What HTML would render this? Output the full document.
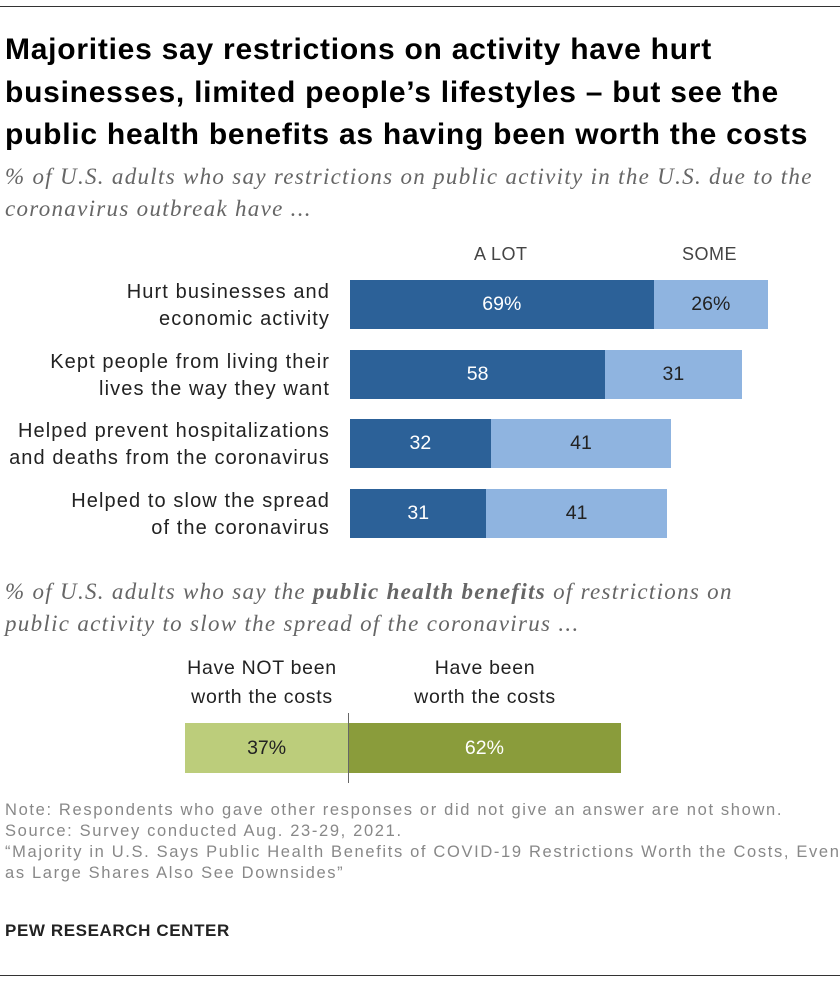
<!DOCTYPE html>
<html><head><meta charset="utf-8"><style>
body{margin:0;width:840px;height:982px;background:#fff;font-family:"Liberation Sans",sans-serif;position:relative;overflow:hidden}
.abs{position:absolute}
.title{left:5px;top:29px;font-size:30px;letter-spacing:0.75px;font-weight:bold;line-height:42.5px;color:#000;width:835px;white-space:nowrap}
.sub{font-family:"Liberation Serif",serif;font-style:italic;color:#666;font-size:23px;letter-spacing:1.3px;line-height:32px;white-space:nowrap}
.lbl{font-size:20px;letter-spacing:1.1px;line-height:27px;text-align:right;color:#222;white-space:nowrap}
.note{font-size:16.5px;letter-spacing:1.65px;color:#888;line-height:21px;white-space:nowrap}
</style></head><body>
<div class="abs" style="left:0;top:6px;width:840px;height:1px;background:#333"></div>
<div class="abs title">Majorities say restrictions on activity have hurt<br>businesses, limited people’s lifestyles – but see the<br>public health benefits as having been worth the costs</div>
<div class="abs sub" style="left:5px;top:161px">% of U.S. adults who say restrictions on public activity in the U.S. due to the<br>coronavirus outbreak have ...</div>
<div class="abs" style="left:474px;top:244px;font-size:18px;letter-spacing:0.5px;color:#444">A LOT</div>
<div class="abs" style="left:682px;top:244px;font-size:18px;letter-spacing:0.5px;color:#444">SOME</div>
<div id="chart1"></div>
<div class="abs sub" style="left:5px;top:576px">% of U.S. adults who say the <b>public health benefits</b> of restrictions on<br>public activity to slow the spread of the coronavirus ...</div>
<div class="abs" style="left:152px;top:654px;width:220px;text-align:center;font-size:19.5px;letter-spacing:0.7px;line-height:29px;color:#222">Have NOT been<br>worth the costs</div>
<div class="abs" style="left:375px;top:654px;width:220px;text-align:center;font-size:19.5px;letter-spacing:0.7px;line-height:29px;color:#222">Have been<br>worth the costs</div>
<div id="chart2"></div>
<div class="abs note" style="left:5px;top:800px">Note: Respondents who gave other responses or did not give an answer are not shown.<br>Source: Survey conducted Aug. 23-29, 2021.<br>“Majority in U.S. Says Public Health Benefits of COVID-19 Restrictions Worth the Costs, Even<br>as Large Shares Also See Downsides”</div>
<div class="abs" style="left:5px;top:921px;font-size:17px;letter-spacing:0.6px;font-weight:bold;color:#222">PEW RESEARCH CENTER</div>
<div class="abs" style="left:0;top:975px;width:840px;height:1px;background:#333"></div>
<script>
const categories=["Hurt businesses and<br>economic activity","Kept people from living their<br>lives the way they want","Helped prevent hospitalizations<br>and deaths from the coronavirus","Helped to slow the spread<br>of the coronavirus"];
const aLot=[69,58,32,31];
const some=[26,31,41,41];
const aLotLabels=["69%","58","32","31"];
const someLabels=["26%","31","41","41"];
const worthCats=["Have NOT been worth the costs","Have been worth the costs"];
const worthVals=[37,62];
const worthLabels=["37%","62%"];
const x0=350,k=4.4;
function sx(v){return v*k;}
const c1=document.getElementById('chart1');
categories.forEach((c,i)=>{
  const y=280+i*69.5;
  const l=document.createElement('div');l.className='abs lbl';
  
  
  l.style.cssText=`right:${840-330}px;top:${y-1}px`;l.innerHTML=c;c1.appendChild(l);
  const b1=document.createElement('div');b1.className='abs';
  
  
  b1.style.cssText=`left:${x0}px;top:${y}px;width:${sx(aLot[i])}px;height:49px;background:#2c6198;color:#fff;font-size:19.5px;line-height:49px;text-align:center`;
  b1.textContent=aLotLabels[i];c1.appendChild(b1);
  const b2=document.createElement('div');b2.className='abs';
  
  
  b2.style.cssText=`left:${x0+sx(aLot[i])}px;top:${y}px;width:${sx(some[i])}px;height:49px;background:#8fb4e0;color:#222;font-size:19.5px;line-height:49px;text-align:center`;
  b2.textContent=someLabels[i];c1.appendChild(b2);
});
const c2=document.getElementById('chart2');
const mid=348;
const g1=document.createElement('div');g1.className='abs';


g1.style.cssText=`left:${mid-sx(worthVals[0])}px;top:723px;width:${sx(worthVals[0])}px;height:50px;background:#bccd7b;color:#222;font-size:19.5px;line-height:50px;text-align:center`;
g1.textContent=worthLabels[0];c2.appendChild(g1);
const g2=document.createElement('div');g2.className='abs';


g2.style.cssText=`left:${mid}px;top:723px;width:${sx(worthVals[1])}px;height:50px;background:#8a9c3b;color:#fff;font-size:19.5px;line-height:50px;text-align:center`;
g2.textContent=worthLabels[1];c2.appendChild(g2);
const d=document.createElement('div');d.className='abs';


d.style.cssText=`left:${mid}px;top:713px;width:1px;height:70px;background:#666`;c2.appendChild(d);
</script>
</body></html>
